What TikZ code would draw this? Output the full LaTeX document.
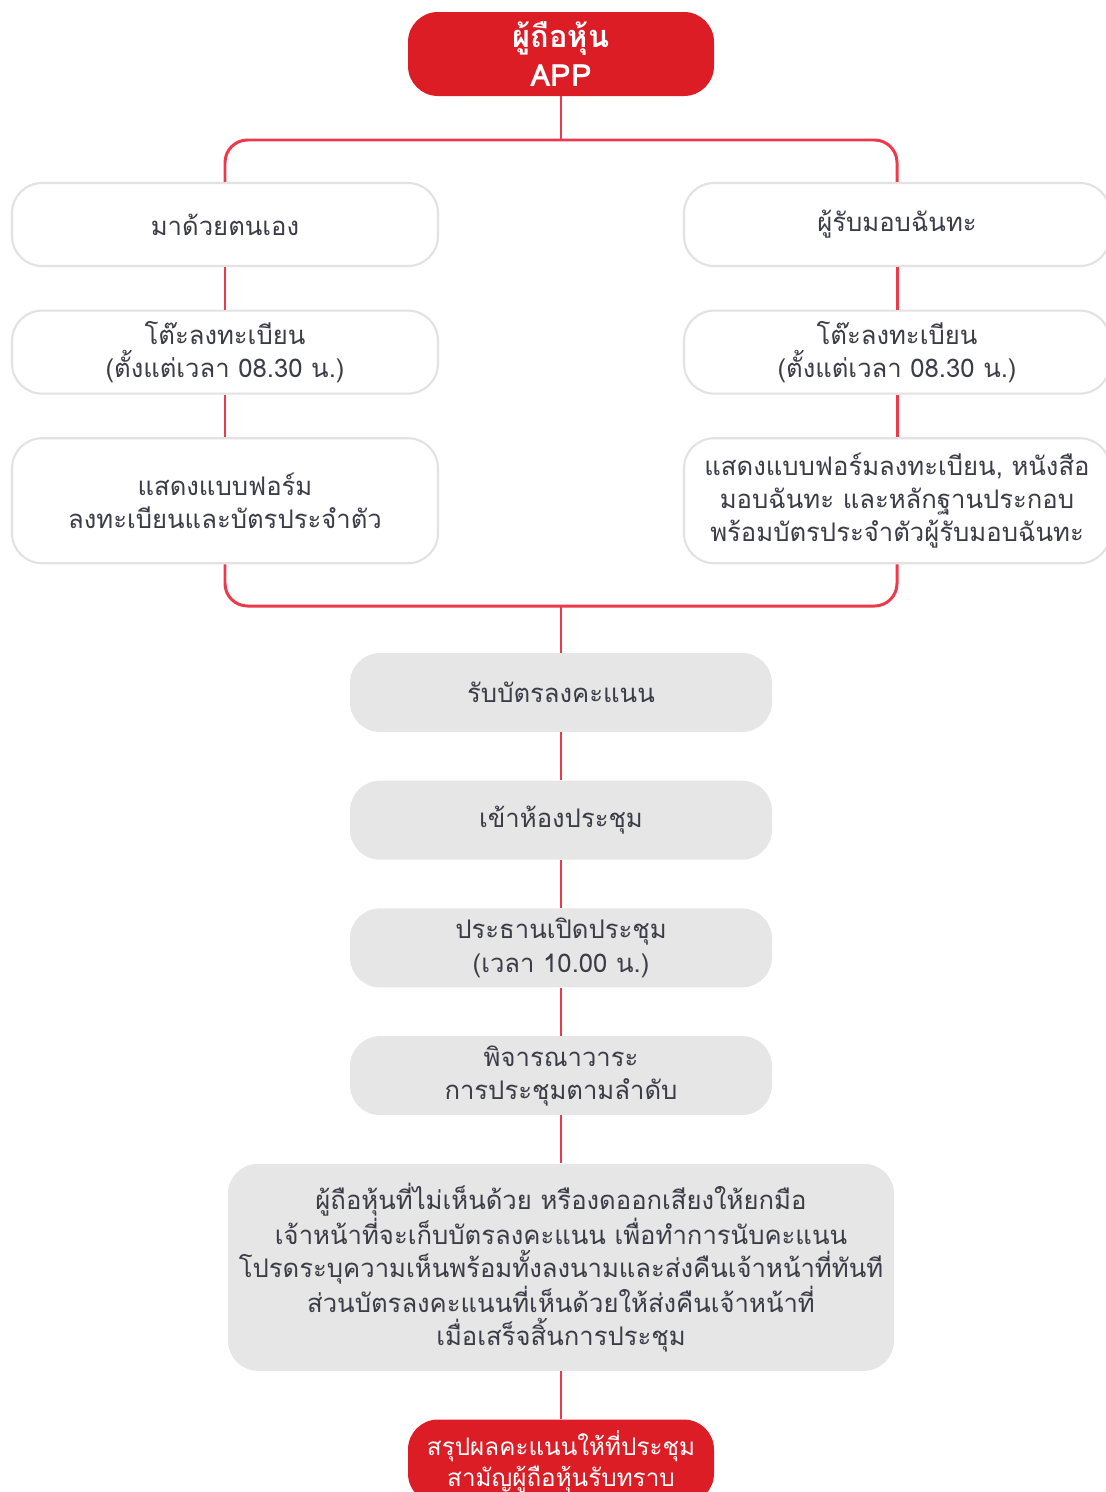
\documentclass[tikz,border=0pt]{standalone}
\usepackage{fontspec}
\setmainfont{Loma}[Script=Thai]
\usetikzlibrary{positioning}
\definecolor{appred}{HTML}{DC1D25}
\definecolor{linkred}{HTML}{EC3A4C}
\definecolor{boxgray}{HTML}{E6E6E6}
\definecolor{rimgray}{HTML}{E2E2E2}
\definecolor{inkgray}{HTML}{3C3C48}

\begin{document}
\begin{tikzpicture}[node distance=0.85cm,
    every node/.style={align=center,text=inkgray,rounded corners=0.6cm,
      font=\fontsize{14.6}{18.8}\selectfont},
    link/.style={draw=linkred,line width=1.7pt}]
    \tikzstyle{redbox}=[fill=appred,text=white,minimum width=6.12cm,minimum height=1.68cm]
    \tikzstyle{whitebox}=[fill=white,draw=rimgray,line width=1.2pt,minimum width=8.52cm,minimum height=1.66cm]
    \tikzstyle{graybox}=[fill=boxgray,minimum width=8.44cm,minimum height=1.58cm]

    \useasboundingbox (0,0) rectangle (22.1,-29.84);

    \node[redbox,font=\bfseries\fontsize{17.5}{22}\selectfont] (app) at (11.22,-1.08) {ผู้ถือหุ้น\\APP};

    \node[whitebox] (self)     at (4.5,-4.49)       {มาด้วยตนเอง};
    \node[whitebox] (selfdesk) [below=of self]      {โต๊ะลงทะเบียน\\(ตั้งแต่เวลา 08.30 น.)};
    \node[whitebox,minimum height=2.5cm] (selfform) [below=of selfdesk]
      {แสดงแบบฟอร์ม\\ลงทะเบียนและบัตรประจำตัว};

    \node[whitebox] (proxy)     at (17.94,-4.49)    {ผู้รับมอบฉันทะ};
    \node[whitebox] (proxydesk) [below=of proxy]    {โต๊ะลงทะเบียน\\(ตั้งแต่เวลา 08.30 น.)};
    \node[whitebox,minimum height=2.5cm] (proxyform) [below=of proxydesk]
      {แสดงแบบฟอร์มลงทะเบียน, หนังสือ\\มอบฉันทะ และหลักฐานประกอบ\\พร้อมบัตรประจำตัวผู้รับมอบฉันทะ};

    \node[graybox] (ballot) at (11.22,-13.85)       {รับบัตรลงคะแนน};
    \node[graybox] (room)   [below=0.96cm of ballot] {เข้าห้องประชุม};
    \node[graybox] (open)   [below=0.96cm of room]   {ประธานเปิดประชุม\\(เวลา 10.00 น.)};
    \node[graybox] (agenda) [below=0.96cm of open]   {พิจารณาวาระ\\การประชุมตามลำดับ};
    \node[graybox,minimum width=13.32cm,minimum height=4.14cm] (vote) [below=0.96cm of agenda]
      {ผู้ถือหุ้นที่ไม่เห็นด้วย หรืองดออกเสียงให้ยกมือ\\
       เจ้าหน้าที่จะเก็บบัตรลงคะแนน เพื่อทำการนับคะแนน\\
       โปรดระบุความเห็นพร้อมทั้งลงนามและส่งคืนเจ้าหน้าที่ทันที\\
       ส่วนบัตรลงคะแนนที่เห็นด้วยให้ส่งคืนเจ้าหน้าที่\\
       เมื่อเสร็จสิ้นการประชุม};
    \node[redbox,font=\fontsize{13.8}{17.5}\selectfont] (result) [below=0.96cm of vote]
      {สรุปผลคะแนนให้ที่ประชุม\\สามัญผู้ถือหุ้นรับทราบ};

    \coordinate (split) at (11.22,-2.8);
    \coordinate (join)  at (11.22,-12.12);

    \draw[link] (app) -- (split);
    \draw[link,rounded corners=0.45cm] (self) |- (split) -| (proxy);
    \draw[link] (self) -- (selfdesk);
    \draw[link] (selfdesk) -- (selfform);
    \draw[link] (proxy) -- (proxydesk);
    \draw[link] (proxydesk) -- (proxyform);
    \draw[link,rounded corners=0.45cm] (selfform) |- (join) -| (proxyform);
    \draw[link] (join) -- (ballot);
    \draw[link] (ballot) -- (room);
    \draw[link] (room) -- (open);
    \draw[link] (open) -- (agenda);
    \draw[link] (agenda) -- (vote);
    \draw[link] (vote) -- (result);
  \end{tikzpicture}
\end{document}
